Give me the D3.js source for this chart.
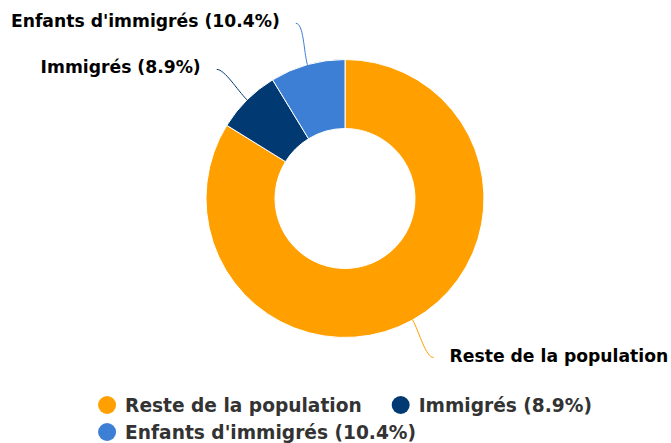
<!DOCTYPE html>
<html>
<head>
<meta charset="utf-8">
<script src="https://cdn.jsdelivr.net/npm/d3@7"></script>
<style>
  body { margin: 0; background: #fff; }
  svg { display: block; font-family: "DejaVu Sans", Verdana, sans-serif; }
</style>
</head>
<body>
<div id="chart"></div>
<script>
// data
var categories = ["Reste de la population", "Immigrés", "Enfants d'immigrés"];
var values = [100, 8.9, 10.4];
var labels = ["Reste de la population", "Immigrés (8.9%)", "Enfants d'immigrés (10.4%)"];
var colors = ["#ffa000", "#013a73", "#3e7fd6"];

var width = 671, height = 443;
var cx = 345, cy = 198.5;
var outerR = 139, innerR = 70;
var labelDist = 43;

var svg = d3.select("#chart").append("svg")
  .attr("width", width)
  .attr("height", height);

var data = categories.map(function(c, i) {
  return { name: c, value: values[i], label: labels[i], color: colors[i] };
});

var pie = d3.pie().sort(null).value(function(d) { return d.value; });
var arc = d3.arc().innerRadius(innerR).outerRadius(outerR);
var arcs = pie(data);

var g = svg.append("g").attr("transform", "translate(" + cx + "," + cy + ")");

g.selectAll("path.slice")
  .data(arcs)
  .enter().append("path")
  .attr("class", "slice")
  .attr("d", arc)
  .attr("fill", function(d) { return d.data.color; })
  .attr("stroke", "#fff")
  .attr("stroke-width", 1);

// point on a circle for a given angle (d3 angles: 0 at top, clockwise)
function pt(a, r) { return [Math.sin(a) * r, -Math.cos(a) * r]; }

arcs.forEach(function(d) {
  var mid = (d.startAngle + d.endAngle) / 2;
  var p = pt(mid, outerR);
  var l = pt(mid, outerR + labelDist);
  var side = Math.sin(mid) < 0 ? -1 : 1;
  var radial = [Math.sin(mid), -Math.cos(mid)];
  var c1 = [l[0] - side * 8, l[1]];
  var c2 = [p[0] + radial[0] * 14, p[1] + radial[1] * 14];

  g.append("path")
    .attr("d", "M" + l[0] + "," + l[1] + " C" + c1[0] + "," + c1[1] + " " + c2[0] + "," + c2[1] + " " + p[0] + "," + p[1])
    .attr("fill", "none")
    .attr("stroke", d.data.color)
    .attr("stroke-width", 1);

  g.append("text")
    .attr("x", l[0] + side * 16)
    .attr("y", l[1] - 2)
    .attr("dy", "0.35em")
    .attr("text-anchor", side < 0 ? "end" : "start")
    .attr("font-size", "17.2px")
    .attr("font-weight", "bold")
    .attr("fill", "#000")
    .attr("stroke", "#fff")
    .attr("stroke-width", 2)
    .attr("stroke-linejoin", "round")
    .attr("paint-order", "stroke")
    .text(d.data.label);
});

// legend, flowed in rows and centred under the donut
var legend = svg.append("g").attr("class", "legend");
var maxRow = 540, itemGap = 30, symR = 9, rowH = 27;
var items = [];
data.forEach(function(d) {
  var it = legend.append("g");
  it.append("circle").attr("r", symR).attr("cx", symR).attr("fill", d.color);
  var t = it.append("text")
    .attr("x", symR * 2 + 9)
    .attr("dy", "0.35em")
    .attr("font-size", "18.6px")
    .attr("font-weight", "bold")
    .attr("fill", "#333")
    .text(d.label);
  items.push({ g: it, w: symR * 2 + 9 + t.node().getComputedTextLength() });
});

var rows = [[]], rowW = [0];
items.forEach(function(it) {
  var r = rows.length - 1;
  var add = rows[r].length ? itemGap + it.w : it.w;
  if (rows[r].length && rowW[r] + add > maxRow) {
    rows.push([it]); rowW.push(it.w);
  } else {
    rows[r].push(it); rowW[r] += add;
  }
});
var legendW = d3.max(rowW);
var lx0 = cx - legendW / 2;
rows.forEach(function(row, ri) {
  var x = lx0;
  row.forEach(function(it) {
    it.g.attr("transform", "translate(" + x + "," + (405 + ri * rowH) + ")");
    x += it.w + itemGap;
  });
});
</script>
</body>
</html>
